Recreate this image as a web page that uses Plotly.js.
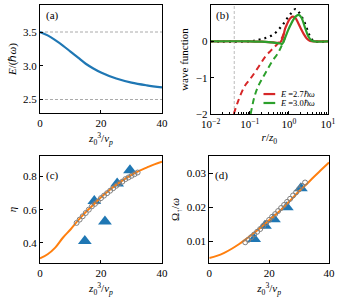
<!DOCTYPE html>
<html>
<head>
<meta charset="utf-8">
<script src="https://cdn.plot.ly/plotly-3.0.1.min.js"></script>
<style>html,body{margin:0;padding:0;background:#fff;}#plot{width:338px;height:300px;}</style>
</head>
<body>
<div id="plot"></div>
<script>
// ---- Panel (a): energy vs z0^3/vp ----
const aX = [0, 2.5, 5, 7.5, 10, 12.5, 15, 17.5, 20, 25, 30, 35, 40];
const aE = [3.50, 3.45, 3.38, 3.30, 3.21, 3.12, 3.03, 2.96, 2.90, 2.81, 2.75, 2.71, 2.68];
const refLevels = [3.5, 2.5];

// ---- Panel (b): wave functions vs r/z0 ----
const rCut = 0.04;
const bBlackR = [0.01, 0.1, 0.18, 0.25, 0.36, 0.5, 0.65, 0.8, 0.97, 1.2, 1.48, 1.8, 2.2, 2.6, 3.1, 3.7, 4.5, 10];
const bBlackY = [0, 0, 0.05, 0.09, 0.16, 0.28, 0.42, 0.55, 0.68, 0.8, 0.89, 0.8, 0.65, 0.48, 0.26, 0.08, 0, 0];
const bRedR = [0.01, 0.1, 0.2, 0.3, 0.4, 0.5, 0.6, 0.7, 0.8, 0.9, 1.0, 1.12, 1.25, 1.45, 1.7, 2.0, 2.4, 2.9, 3.5, 4.5, 10];
const bRedY = [0, 0, -0.01, -0.02, -0.03, -0.04, -0.03, 0.1, 0.35, 0.48, 0.58, 0.65, 0.68, 0.65, 0.52, 0.36, 0.2, 0.07, 0.01, 0, 0];
const bGreenR = [0.01, 0.1, 0.2, 0.3, 0.45, 0.6, 0.68, 0.8, 0.95, 1.1, 1.3, 1.55, 1.8, 2.1, 2.6, 3.1, 3.7, 4.5, 10];
const bGreenY = [0, 0, -0.01, -0.02, -0.04, -0.06, -0.07, 0.1, 0.3, 0.45, 0.6, 0.7, 0.73, 0.65, 0.37, 0.15, 0.03, 0, 0];
const bRedDashR = [0.039, 0.05, 0.075, 0.1, 0.15, 0.25, 0.35, 0.5, 0.65, 0.8];
const bRedDashY = [-2, -1.65, -1.22, -1.05, -0.78, -0.42, -0.25, -0.08, 0.08, 0.33];
const bGreenDashR = [0.105, 0.135, 0.17, 0.245, 0.36, 0.54, 0.68, 0.8];
const bGreenDashY = [-2, -1.48, -1.2, -0.89, -0.58, -0.3, -0.08, 0.1];
const legendNames = ['<i>E</i> =2.7ℏ<i>ω</i>', '<i>E</i> =3.0ℏ<i>ω</i>'];

// ---- Panel (c): eta ----
const cFitX = [0, 2.5, 5, 7.5, 10, 12.5, 15, 17.5, 20, 22.5, 25, 27.5, 30, 32.5, 35, 37.5, 40];
const cFitY = [0.305, 0.33, 0.37, 0.43, 0.48, 0.535, 0.585, 0.63, 0.675, 0.715, 0.75, 0.782, 0.81, 0.835, 0.855, 0.874, 0.89];
const cCircX = [12, 13, 14, 15, 16, 17, 18, 19, 20, 21, 22, 23, 24, 25, 26, 27, 28, 29, 30, 31, 32];
const cCircY = [0.52, 0.54, 0.56, 0.58, 0.60, 0.62, 0.635, 0.65, 0.67, 0.685, 0.70, 0.715, 0.73, 0.745, 0.76, 0.77, 0.785, 0.795, 0.805, 0.815, 0.825];
const cTriX = [14.7, 17.8, 21.3, 25.3, 29.5];
const cTriY = [0.41, 0.652, 0.529, 0.758, 0.838];

// ---- Panel (d): Omega ----
const dFitX = [0, 2.5, 5, 7.5, 10, 12.5, 15, 17.5, 20, 22.5, 25, 27.5, 30, 32.5, 35, 37.5, 40];
const dFitY = [0.0051, 0.0057, 0.0066, 0.0078, 0.0092, 0.0108, 0.0125, 0.0143, 0.0162, 0.0181, 0.0201, 0.0224, 0.0247, 0.0268, 0.0290, 0.0311, 0.0332];
const dCircX = [12, 13, 14, 15, 16, 17, 18, 19, 20, 21, 22, 23, 24, 25, 26, 27, 28, 29, 30, 31, 32];
const dCircY = [0.0097, 0.0104, 0.0112, 0.0120, 0.0128, 0.0136, 0.0145, 0.0154, 0.0163, 0.0172, 0.0180, 0.0189, 0.0198, 0.0207, 0.0216, 0.0225, 0.0235, 0.0244, 0.0253, 0.0263, 0.0273];
const dTriX = [15.0, 18.6, 21.6, 25.9, 30.6];
const dTriY = [0.0107, 0.0146, 0.0165, 0.0200, 0.0256];

// tick labels
const linTicks = [0, 20, 40];
const aYTicks = [2.5, 3.0, 3.5];
const bXTicks = [0.01, 0.1, 1, 10];
const bXText = ['10<sup>−2</sup>', '10<sup>−1</sup>', '10<sup>0</sup>', '10<sup>1</sup>'];
const bYTicks = [-2, -1, 0, 1];
const cYTicks = [0.4, 0.6, 0.8];
const dYTicks = [0.01, 0.02, 0.03];
const minorMult = [2, 3, 4, 5, 6, 7, 8, 9];
const bMinorTicks = [];
bXTicks.slice(0, -1).forEach(d => minorMult.forEach(m => bMinorTicks.push(d * m)));

const BLUE = '#1f77b4', ORANGE = '#ff7f0e', RED = '#d62728', GREEN = '#2ca02c', GRAY = '#808080';
const FONT = 'Liberation Serif';
const legendColors = [RED, GREEN];

const traces = [];
// (a)
refLevels.forEach(v => traces.push({x: [aX[0], aX[aX.length-1]], y: [v, v], xaxis: 'x', yaxis: 'y', mode: 'lines',
  line: {color: '#aaaaaa', width: 1, dash: '3px,2px'}, showlegend: false, hoverinfo: 'skip'}));
traces.push({x: aX, y: aE, xaxis: 'x', yaxis: 'y', mode: 'lines', line: {color: BLUE, width: 2.2, shape: 'spline'}, showlegend: false});
// (b)
traces.push({x: [rCut, rCut], y: [bYTicks[0], bYTicks[bYTicks.length-1]], xaxis: 'x2', yaxis: 'y2', mode: 'lines',
  line: {color: '#bbbbbb', width: 1, dash: '3px,2px'}, showlegend: false});
traces.push({x: bRedDashR, y: bRedDashY, xaxis: 'x2', yaxis: 'y2', mode: 'lines', line: {color: RED, width: 2, dash: '6px,4px', shape: 'spline'}, showlegend: false});
traces.push({x: bGreenDashR, y: bGreenDashY, xaxis: 'x2', yaxis: 'y2', mode: 'lines', line: {color: GREEN, width: 2, dash: '6px,4px', shape: 'spline'}, showlegend: false});
traces.push({x: bBlackR, y: bBlackY, xaxis: 'x2', yaxis: 'y2', mode: 'lines', line: {color: '#000', width: 2.2, dash: '2px,4px', shape: 'spline'}, showlegend: false});
traces.push({x: bRedR, y: bRedY, xaxis: 'x2', yaxis: 'y2', mode: 'lines', name: legendNames[0], line: {color: RED, width: 2.2, shape: 'spline'}, showlegend: false});
traces.push({x: bGreenR, y: bGreenY, xaxis: 'x2', yaxis: 'y2', mode: 'lines', name: legendNames[1], line: {color: GREEN, width: 2.2, shape: 'spline'}, showlegend: false});
// (c)
traces.push({x: cTriX, y: cTriY, xaxis: 'x3', yaxis: 'y3', mode: 'markers', marker: {symbol: 'triangle-up', size: 12, color: BLUE}, showlegend: false});
traces.push({x: cFitX, y: cFitY, xaxis: 'x3', yaxis: 'y3', mode: 'lines', line: {color: ORANGE, width: 2, shape: 'spline'}, showlegend: false});
traces.push({x: cCircX, y: cCircY, xaxis: 'x3', yaxis: 'y3', mode: 'markers', marker: {symbol: 'circle-open', size: 5, color: GRAY, line: {width: 1}}, showlegend: false});
// (d)
traces.push({x: dTriX, y: dTriY, xaxis: 'x4', yaxis: 'y4', mode: 'markers', marker: {symbol: 'triangle-up', size: 12, color: BLUE}, showlegend: false});
traces.push({x: dFitX, y: dFitY, xaxis: 'x4', yaxis: 'y4', mode: 'lines', line: {color: ORANGE, width: 2, shape: 'spline'}, showlegend: false});
traces.push({x: dCircX, y: dCircY, xaxis: 'x4', yaxis: 'y4', mode: 'markers', marker: {symbol: 'circle-open', size: 5, color: GRAY, line: {width: 1}}, showlegend: false});

const tickFont = {family: FONT, size: 11, color: '#000'};
const titleFont = {family: FONT, size: 11, color: '#000'};
function ax(extra) {
  return Object.assign({showline: true, mirror: true, linecolor: '#000', linewidth: 1, ticks: 'inside', ticklen: 3.5,
    tickcolor: '#000', showgrid: false, zeroline: false, tickfont: tickFont, fixedrange: true}, extra);
}
const xTitle = {text: '<i>z</i><sub>0</sub><sup>3</sup>/<i>v<sub>p</sub></i>', font: titleFont, standoff: 6};

// manual compact legend for panel (b)
const legY = [0.183, 0.101];
const shapes = [];
const annotations = [
  {text: '(a)', xref: 'x domain', yref: 'y domain', x: 0.03, y: 0.9, xanchor: 'left', yanchor: 'middle', showarrow: false, font: {family: FONT, size: 11}},
  {text: '(b)', xref: 'x2 domain', yref: 'y2 domain', x: 0.03, y: 0.9, xanchor: 'left', yanchor: 'middle', showarrow: false, font: {family: FONT, size: 11}},
  {text: '(c)', xref: 'x3 domain', yref: 'y3 domain', x: 0.03, y: 0.82, xanchor: 'left', yanchor: 'middle', showarrow: false, font: {family: FONT, size: 11}},
  {text: '(d)', xref: 'x4 domain', yref: 'y4 domain', x: 0.03, y: 0.82, xanchor: 'left', yanchor: 'middle', showarrow: false, font: {family: FONT, size: 11}}
];
legendNames.forEach((name, i) => {
  shapes.push({type: 'line', xref: 'x2 domain', yref: 'y2 domain', x0: 0.45, x1: 0.55, y0: legY[i], y1: legY[i],
    line: {color: legendColors[i], width: 2.2}});
  annotations.push({text: name, xref: 'x2 domain', yref: 'y2 domain', x: 0.575, y: legY[i], xanchor: 'left', yanchor: 'middle',
    showarrow: false, font: {family: FONT, size: 8.5, color: '#000'}});
});

const layout = {
  width: 338, height: 300, margin: {l: 0, r: 0, t: 0, b: 0}, paper_bgcolor: '#fff', plot_bgcolor: '#fff',
  font: {family: FONT, size: 11, color: '#000'},
  showlegend: false,
  xaxis: ax({domain: [0.1183, 0.4793], range: [0, 40], tickvals: linTicks, anchor: 'y', title: xTitle}),
  yaxis: ax({domain: [0.6233, 0.9833], range: [2.3, 3.9], tickvals: aYTicks, tickformat: '.1f', anchor: 'x',
    title: {text: '<i>E</i>/(ℏ<i>ω</i>)', font: titleFont, standoff: 4}}),
  xaxis2: ax({domain: [0.6234, 0.9704], type: 'log', range: [-2, 1], tickvals: bXTicks, ticktext: bXText, anchor: 'y2',
    minor: {ticks: 'inside', ticklen: 2, tickcolor: '#000', tickmode: 'array', tickvals: bMinorTicks, showgrid: false},
    title: {text: '<i>r</i>/<i>z</i><sub>0</sub>', font: titleFont, standoff: 4}}),
  yaxis2: ax({domain: [0.62, 0.9833], range: [-2, 1], tickvals: bYTicks, anchor: 'x2',
    title: {text: 'wave function', font: titleFont, standoff: 4}}),
  xaxis3: ax({domain: [0.1183, 0.4793], range: [0, 40], tickvals: linTicks, anchor: 'y3', title: xTitle}),
  yaxis3: ax({domain: [0.1233, 0.48], range: [0.277, 0.925], tickvals: cYTicks, tickformat: '.1f', anchor: 'x3',
    title: {text: '<i>η</i>', font: titleFont, standoff: 4}}),
  xaxis4: ax({domain: [0.6192, 0.9734], range: [0, 40], tickvals: linTicks, anchor: 'y4', title: xTitle}),
  yaxis4: ax({domain: [0.1233, 0.48], range: [0.0036, 0.0351], tickvals: dYTicks, tickformat: '.2f', anchor: 'x4',
    title: {text: 'Ω<sub>↑</sub>/<i>ω</i>', font: titleFont, standoff: 4}}),
  shapes: shapes,
  annotations: annotations
};

Plotly.newPlot('plot', traces, layout, {displayModeBar: false});
</script>
</body>
</html>
